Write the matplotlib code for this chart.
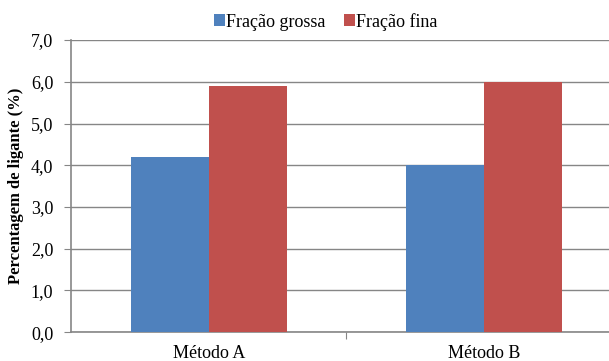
import matplotlib.pyplot as plt
import numpy as np

plt.rcParams["font.family"] = ["Liberation Serif", "DejaVu Serif"]

metodos = ["Método A", "Método B"]
series = ["Fração grossa", "Fração fina"]
grossa = [4.2, 4.0]
fina = [5.9, 6.0]
yticks = np.arange(0, 7.01, 1.0)

COLORS = {"grossa": "#4F81BD", "fina": "#C0504D", "axis": "#868686"}

fig = plt.figure(figsize=(6.09, 3.61), dpi=100)
ax = fig.add_axes([0.117, 0.080, 0.883, 0.809])

x = np.arange(len(metodos))
w = 0.284
ax.bar(x - w / 2, grossa, w, color=COLORS["grossa"], label=series[0], zorder=3)
ax.bar(x + w / 2, fina, w, color=COLORS["fina"], label=series[1], zorder=3)

ax.set_ylim(0, 7)
ax.set_xlim(-0.5, -0.5 + (609 - 71.3) / 275)
ax.set_yticks(yticks)
ax.set_yticklabels([f"{v:.1f}".replace(".", ",") for v in yticks], fontsize=13)
ax.yaxis.grid(True, color=COLORS["axis"], lw=1.0, zorder=0)

# category boundaries get the ticks, names sit at the centres
ax.set_xticks([0.5])
ax.set_xticklabels([""])
ax.set_xticks(x, minor=True)
ax.set_xticklabels(metodos, minor=True, fontsize=13)
ax.tick_params(axis="x", which="major", length=5, color=COLORS["axis"])
ax.tick_params(axis="x", which="minor", length=0, pad=9)
ax.tick_params(axis="y", length=5, color=COLORS["axis"], pad=8)

for side in ["top", "right"]:
    ax.spines[side].set_visible(False)
for side in ["left", "bottom"]:
    ax.spines[side].set_color(COLORS["axis"])
    ax.spines[side].set_linewidth(1.2)

ax.set_ylabel("Percentagem de ligante (%)", fontsize=12, fontweight="bold", labelpad=5)

fig.legend(loc="upper center", bbox_to_anchor=(0.535, 1.01), ncol=2, frameon=False,
           fontsize=13, handlelength=0.6, handleheight=0.6, handletextpad=0.1,
           columnspacing=1.0)

fig.savefig("out.png", dpi=100)
